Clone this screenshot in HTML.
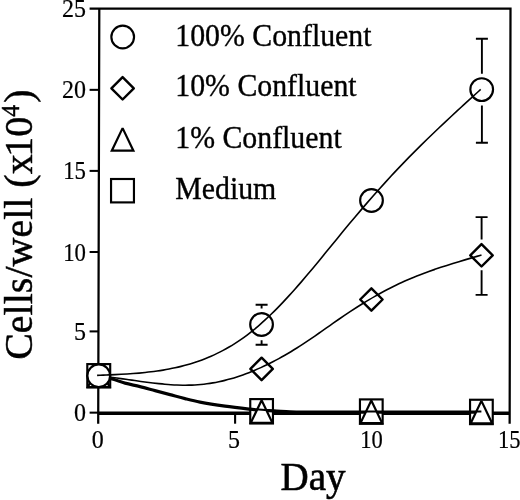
<!DOCTYPE html>
<html><head><meta charset="utf-8"><style>
html,body{margin:0;padding:0;background:#fff;}
svg{display:block;will-change:transform;}
text{font-family:"Liberation Serif",serif;fill:#000;}
</style></head><body>
<svg width="520" height="500" viewBox="0 0 520 500">
<line x1="98.20" y1="413.2" x2="509.65" y2="413.2" stroke="#000" stroke-width="3.6"/>
<path d="M89.6,8.65 H510.5 M99.3,7.550000000000001 L98.20,423.7 M510.5,7.550000000000001 L509.65,423.7" stroke="#000" stroke-width="2.25" fill="none"/>
<text transform="translate(86.00,17.15) scale(1.0,1.05)" font-size="24" text-anchor="end" stroke="#000" stroke-width="0.2">25</text>
<line x1="89.6" y1="89.85" x2="99.08" y2="89.85" stroke="#000" stroke-width="2.05"/>
<text transform="translate(86.00,98.35) scale(1.0,1.05)" font-size="24" text-anchor="end" stroke="#000" stroke-width="0.2">20</text>
<line x1="89.6" y1="170.90" x2="98.86" y2="170.90" stroke="#000" stroke-width="2.05"/>
<text transform="translate(86.00,179.40) scale(0.95,1.05)" font-size="24" text-anchor="end" stroke="#000" stroke-width="0.2">15</text>
<line x1="89.6" y1="252.00" x2="98.64" y2="252.00" stroke="#000" stroke-width="2.05"/>
<text transform="translate(86.00,260.50) scale(0.95,1.05)" font-size="24" text-anchor="end" stroke="#000" stroke-width="0.2">10</text>
<line x1="89.6" y1="331.40" x2="98.42" y2="331.40" stroke="#000" stroke-width="2.05"/>
<text transform="translate(86.00,339.90) scale(1.0,1.05)" font-size="24" text-anchor="end" stroke="#000" stroke-width="0.2">5</text>
<line x1="89.6" y1="412.65" x2="98.20" y2="412.65" stroke="#000" stroke-width="2.05"/>
<text transform="translate(86.00,421.15) scale(1.0,1.05)" font-size="24" text-anchor="end" stroke="#000" stroke-width="0.2">0</text>
<text transform="translate(97.85,447.90) scale(1.0,1.05)" font-size="24" text-anchor="middle" stroke="#000" stroke-width="0.2">0</text>
<line x1="235.1" y1="413.2" x2="235.1" y2="423.7" stroke="#000" stroke-width="2.1"/>
<text transform="translate(233.90,447.90) scale(1.0,1.05)" font-size="24" text-anchor="middle" stroke="#000" stroke-width="0.2">5</text>
<line x1="372.4" y1="413.2" x2="372.4" y2="423.7" stroke="#000" stroke-width="2.1"/>
<text transform="translate(371.60,447.90) scale(0.94,1.05)" font-size="24" text-anchor="middle" stroke="#000" stroke-width="0.2">10</text>
<text transform="translate(509.20,447.90) scale(0.94,1.05)" font-size="24" text-anchor="middle" stroke="#000" stroke-width="0.2">15</text>
<rect x="87.3" y="364.1" width="22.9" height="23.4" fill="#fff" stroke="#000" stroke-width="2.15"/>
<rect x="250.25000000000003" y="399.1" width="22.7" height="24.4" fill="#fff" stroke="#000" stroke-width="2.15"/>
<rect x="359.95" y="399.40000000000003" width="22.7" height="24.4" fill="#fff" stroke="#000" stroke-width="2.15"/>
<rect x="470.04999999999995" y="399.75" width="22.7" height="24.4" fill="#fff" stroke="#000" stroke-width="2.15"/>
<path d="M98.85,377.20 C102.90,377.93 106.84,378.39 111.00,379.40 C115.53,380.50 120.23,382.41 125.00,383.70 C129.89,385.02 135.01,385.95 140.00,387.20 C145.01,388.45 150.00,389.87 155.00,391.20 C160.00,392.53 165.00,393.87 170.00,395.20 C175.00,396.53 179.99,397.95 185.00,399.20 C189.99,400.45 194.34,401.58 200.00,402.70 C207.25,404.14 216.65,405.62 225.00,406.80 C233.32,407.98 243.18,409.05 250.00,409.80 C254.72,410.32 258.00,410.72 262.00,411.00 C266.00,411.28 269.71,411.28 274.00,411.50 C278.95,411.76 284.75,412.28 290.00,412.50 C295.08,412.71 299.36,412.75 305.00,412.80 C312.27,412.86 318.15,412.72 330.00,412.70 C359.16,412.64 430.93,412.70 481.40,412.70" fill="none" stroke="#000" stroke-width="2"/>
<path d="M98.75,364.40000000000003 L109.55,387.0 L87.95,387.0 Z" fill="#fff" stroke="#000" stroke-width="2.2" stroke-linejoin="miter" stroke-miterlimit="2.2"/>
<path d="M261.6,400.20000000000005 L272.40000000000003,422.8 L250.8,422.8 Z" fill="#fff" stroke="#000" stroke-width="2.2" stroke-linejoin="miter" stroke-miterlimit="2.2"/>
<path d="M371.3,400.50000000000006 L382.1,423.1 L360.5,423.1 Z" fill="#fff" stroke="#000" stroke-width="2.2" stroke-linejoin="miter" stroke-miterlimit="2.2"/>
<path d="M481.4,400.85 L492.2,423.45 L470.59999999999997,423.45 Z" fill="#fff" stroke="#000" stroke-width="2.2" stroke-linejoin="miter" stroke-miterlimit="2.2"/>
<path d="M98.85,376.00 C102.90,376.73 106.84,377.19 111.00,378.20 C115.53,379.30 120.23,381.21 125.00,382.50 C129.89,383.82 135.01,384.75 140.00,386.00 C145.01,387.25 150.00,388.67 155.00,390.00 C160.00,391.33 165.00,392.67 170.00,394.00 C175.00,395.33 179.99,396.75 185.00,398.00 C189.99,399.25 194.34,400.38 200.00,401.50 C207.25,402.94 216.65,404.42 225.00,405.60 C233.32,406.78 243.18,407.85 250.00,408.60 C254.72,409.12 258.00,409.52 262.00,409.80 C266.00,410.08 269.71,410.08 274.00,410.30 C278.95,410.56 284.75,411.08 290.00,411.30 C295.08,411.51 299.36,411.55 305.00,411.60 C312.27,411.66 318.15,411.52 330.00,411.50 C359.16,411.44 430.93,411.50 481.40,411.50" fill="none" stroke="#000" stroke-width="2"/>
<path d="M98.75,364.6 L109.95,375.8 L98.75,387.0 L87.55,375.8 Z" fill="#fff" stroke="#000" stroke-width="2.45" stroke-linejoin="round"/>
<path d="M261.6,357.7 L272.8,368.9 L261.6,380.09999999999997 L250.40000000000003,368.9 Z" fill="#fff" stroke="#000" stroke-width="2.45" stroke-linejoin="round"/>
<path d="M371.4,288.3 L382.59999999999997,299.5 L371.4,310.7 L360.2,299.5 Z" fill="#fff" stroke="#000" stroke-width="2.45" stroke-linejoin="round"/>
<path d="M481.5,244.10000000000002 L492.7,255.3 L481.5,266.5 L470.3,255.3 Z" fill="#fff" stroke="#000" stroke-width="2.45" stroke-linejoin="round"/>
<path d="M481.6,217.1 V239.5 M481.6,270.3 V294.9 M475.6,217.1 H487.6 M475.6,294.9 H487.6" stroke="#000" stroke-width="1.9" fill="none"/>
<path d="M98.85,376.00 C100.85,376.20 102.85,376.38 104.85,376.60 C106.85,376.81 108.85,377.05 110.85,377.29 C112.85,377.54 114.85,377.79 116.85,378.06 C118.85,378.32 120.85,378.60 122.85,378.87 C124.85,379.15 126.85,379.44 128.85,379.72 C130.85,380.00 132.85,380.29 134.85,380.57 C136.85,380.86 138.85,381.14 140.85,381.42 C142.85,381.69 144.85,381.97 146.85,382.23 C148.85,382.49 150.85,382.74 152.85,382.98 C154.85,383.22 156.85,383.45 158.85,383.66 C160.85,383.87 162.85,384.07 164.85,384.24 C166.85,384.41 168.85,384.57 170.85,384.70 C172.85,384.83 174.85,384.95 176.85,385.03 C178.85,385.11 180.85,385.17 182.85,385.19 C184.85,385.21 186.85,385.21 188.85,385.17 C190.85,385.13 192.85,385.06 194.85,384.95 C196.85,384.84 198.85,384.69 200.85,384.51 C202.85,384.32 204.85,384.09 206.85,383.82 C208.85,383.55 210.85,383.25 212.85,382.90 C214.85,382.56 216.85,382.17 218.85,381.75 C220.85,381.33 222.85,380.87 224.85,380.37 C226.85,379.88 228.85,379.34 230.85,378.77 C232.85,378.20 234.86,377.60 236.85,376.96 C238.86,376.32 240.86,375.64 242.85,374.93 C244.86,374.22 246.86,373.48 248.85,372.70 C250.86,371.92 252.86,371.11 254.85,370.27 C256.86,369.42 258.86,368.54 260.85,367.64 C262.86,366.73 264.86,365.78 266.85,364.82 C268.86,363.84 270.86,362.84 272.85,361.81 C274.86,360.77 276.86,359.71 278.85,358.62 C280.86,357.53 282.86,356.40 284.85,355.26 C286.86,354.11 288.86,352.93 290.85,351.72 C292.86,350.51 294.86,349.28 296.85,348.02 C298.86,346.76 300.86,345.47 302.85,344.16 C304.86,342.85 306.85,341.51 308.85,340.16 C310.85,338.81 312.85,337.43 314.85,336.05 C316.85,334.67 318.85,333.27 320.85,331.88 C322.85,330.48 324.85,329.07 326.85,327.66 C328.85,326.26 330.85,324.85 332.85,323.45 C334.85,322.05 336.85,320.65 338.85,319.27 C340.85,317.89 342.85,316.51 344.85,315.16 C346.85,313.81 348.85,312.47 350.85,311.15 C352.85,309.84 354.85,308.54 356.85,307.26 C358.85,305.98 360.85,304.72 362.85,303.48 C364.85,302.25 366.84,301.03 368.85,299.84 C370.85,298.65 372.84,297.48 374.85,296.33 C376.84,295.18 378.84,294.06 380.85,292.96 C382.84,291.87 384.84,290.79 386.85,289.74 C388.84,288.70 390.84,287.68 392.85,286.69 C394.84,285.70 396.84,284.73 398.85,283.79 C400.84,282.86 402.85,281.95 404.85,281.06 C406.85,280.18 408.85,279.32 410.85,278.48 C412.85,277.64 414.85,276.82 416.85,276.03 C418.85,275.23 420.85,274.46 422.85,273.70 C424.85,272.95 426.85,272.21 428.85,271.49 C430.85,270.77 432.85,270.07 434.85,269.37 C436.85,268.69 438.85,268.01 440.85,267.35 C442.85,266.69 444.85,266.04 446.85,265.40 C448.85,264.76 450.85,264.13 452.85,263.51 C454.85,262.89 456.85,262.28 458.85,261.68 C460.85,261.07 462.85,260.47 464.85,259.88 C466.85,259.29 468.85,258.70 470.85,258.11 C472.85,257.52 474.98,256.90 476.85,256.36 C478.50,255.88 479.95,255.45 481.50,255.00" fill="none" stroke="#000" stroke-width="1.6"/>
<circle cx="98.75" cy="375.8" r="11.35" fill="#fff" stroke="#000" stroke-width="2.15"/>
<circle cx="261.55" cy="324.5" r="11.35" fill="#fff" stroke="#000" stroke-width="2.15"/>
<circle cx="371.5" cy="200.5" r="11.35" fill="#fff" stroke="#000" stroke-width="2.15"/>
<circle cx="481.7" cy="89.6" r="11.35" fill="#fff" stroke="#000" stroke-width="2.15"/>
<path d="M261.6,304.7 V308.6 M261.6,340.2 V344.8 M255.60000000000002,304.7 H267.6 M255.60000000000002,344.8 H267.6" stroke="#000" stroke-width="1.9" fill="none"/>
<path d="M481.9,38.8 V73.8 M481.9,105.4 V142.8 M475.9,38.8 H487.9 M475.9,142.8 H487.9" stroke="#000" stroke-width="1.9" fill="none"/>
<path d="M97.10,375.40 C99.10,375.32 101.10,375.23 103.10,375.15 C105.10,375.07 107.10,374.98 109.10,374.90 C111.10,374.81 113.10,374.72 115.10,374.63 C117.10,374.53 119.10,374.43 121.10,374.32 C123.10,374.21 125.10,374.10 127.10,373.97 C129.10,373.85 131.10,373.71 133.10,373.56 C135.10,373.41 137.10,373.25 139.10,373.08 C141.10,372.90 143.10,372.71 145.10,372.50 C147.10,372.29 149.10,372.07 151.10,371.82 C153.10,371.58 155.10,371.31 157.10,371.03 C159.10,370.74 161.10,370.43 163.10,370.10 C165.10,369.76 167.10,369.40 169.10,369.02 C171.10,368.63 173.10,368.22 175.10,367.78 C177.10,367.34 179.10,366.87 181.10,366.37 C183.10,365.86 185.10,365.33 187.10,364.77 C189.10,364.20 191.11,363.59 193.10,362.96 C195.11,362.32 197.11,361.64 199.10,360.93 C201.11,360.22 203.11,359.46 205.10,358.67 C207.11,357.88 209.11,357.04 211.10,356.17 C213.11,355.28 215.11,354.36 217.10,353.40 C219.11,352.42 221.11,351.41 223.10,350.35 C225.11,349.28 227.11,348.16 229.10,347.00 C231.11,345.83 233.11,344.61 235.10,343.35 C237.11,342.07 239.11,340.74 241.10,339.37 C243.11,337.97 245.11,336.53 247.10,335.04 C249.11,333.53 251.11,331.97 253.10,330.36 C255.11,328.73 257.11,327.04 259.10,325.32 C261.11,323.57 263.11,321.78 265.10,319.95 C267.11,318.10 269.11,316.20 271.10,314.28 C273.11,312.33 275.11,310.33 277.10,308.32 C279.11,306.28 281.11,304.20 283.10,302.10 C285.11,299.97 287.11,297.82 289.10,295.64 C291.11,293.44 293.11,291.22 295.10,288.97 C297.11,286.71 299.11,284.42 301.10,282.12 C303.11,279.80 305.11,277.45 307.10,275.10 C309.11,272.73 311.10,270.34 313.10,267.94 C315.10,265.53 317.10,263.11 319.10,260.68 C321.10,258.24 323.10,255.80 325.10,253.35 C327.10,250.90 329.10,248.45 331.10,245.99 C333.10,243.54 335.10,241.09 337.10,238.64 C339.10,236.20 341.10,233.75 343.10,231.32 C345.10,228.90 347.10,226.48 349.10,224.08 C351.10,221.68 353.10,219.30 355.10,216.92 C357.10,214.56 359.10,212.20 361.10,209.86 C363.10,207.53 365.10,205.20 367.10,202.89 C369.10,200.59 371.10,198.30 373.10,196.03 C375.10,193.76 377.10,191.51 379.10,189.27 C381.10,187.04 383.10,184.82 385.10,182.62 C387.10,180.42 389.10,178.24 391.10,176.08 C393.10,173.92 395.09,171.78 397.10,169.66 C399.09,167.54 401.10,165.44 403.10,163.36 C405.10,161.28 407.10,159.22 409.10,157.18 C411.10,155.14 413.10,153.12 415.10,151.11 C417.10,149.10 419.10,147.12 421.10,145.14 C423.10,143.17 425.10,141.21 427.10,139.26 C429.10,137.32 431.10,135.39 433.10,133.47 C435.10,131.55 437.10,129.65 439.10,127.75 C441.10,125.86 443.10,123.97 445.10,122.09 C447.10,120.22 449.10,118.36 451.10,116.50 C453.10,114.64 455.10,112.79 457.10,110.95 C459.10,109.10 461.10,107.27 463.10,105.43 C465.10,103.60 467.10,101.78 469.10,99.95 C471.10,98.13 473.13,96.28 475.10,94.49 C477.00,92.76 478.83,91.10 480.70,89.40" fill="none" stroke="#000" stroke-width="1.6"/>
<circle cx="122.7" cy="37.05" r="11.35" fill="#fff" stroke="#000" stroke-width="2.15"/>
<path d="M122.6,77.1 L133.79999999999998,88.3 L122.6,99.5 L111.39999999999999,88.3 Z" fill="#fff" stroke="#000" stroke-width="2.45" stroke-linejoin="round"/>
<path d="M122.6,128.1 L133.4,150.7 L111.8,150.7 Z" fill="#fff" stroke="#000" stroke-width="2.2" stroke-linejoin="miter" stroke-miterlimit="2.2"/>
<rect x="111.05" y="179.0" width="22.9" height="23.4" fill="#fff" stroke="#000" stroke-width="2.15"/>
<text transform="translate(175.30,45.50) scale(0.994,1.05)" font-size="30" text-anchor="start" stroke="#000" stroke-width="0.35">100% Confluent</text>
<text transform="translate(175.30,96.40) scale(0.994,1.05)" font-size="30" text-anchor="start" stroke="#000" stroke-width="0.35">10% Confluent</text>
<text transform="translate(175.30,148.00) scale(0.994,1.05)" font-size="30" text-anchor="start" stroke="#000" stroke-width="0.35">1% Confluent</text>
<text transform="translate(175.30,198.80) scale(0.994,1.05)" font-size="30" text-anchor="start" stroke="#000" stroke-width="0.35">Medium</text>
<text transform="translate(280.50,490.00) scale(0.975,1.02)" font-size="40" text-anchor="start" stroke="#000" stroke-width="0.6">Day</text>
<text transform="translate(32.20,359.80) rotate(-90) scale(1.0,1.01)" font-size="40" text-anchor="start" stroke="#000" stroke-width="0.45">Cells/well (x<tspan dx="-2.4">1</tspan>0<tspan font-size="24" dy="-13">4</tspan><tspan dy="13" dx="2">)</tspan></text>
</svg>
</body></html>
